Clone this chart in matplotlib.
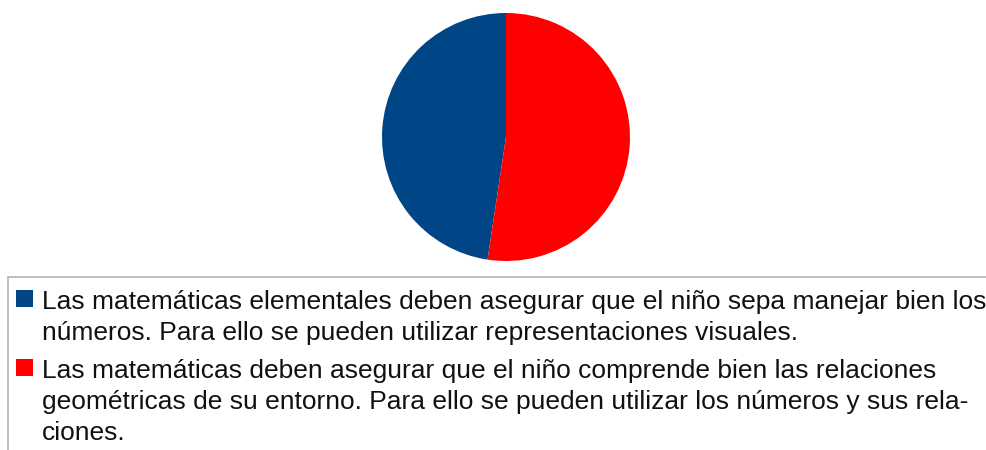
import matplotlib
matplotlib.use('Agg')
import matplotlib.pyplot as plt
from matplotlib.patches import Rectangle

# ─── DATA ─────────────────────────────────────────────────────────────────────
labels = [
    'Las matemáticas elementales deben asegurar que el niño sepa manejar bien los\n'
    'números. Para ello se pueden utilizar representaciones visuales.',
    'Las matemáticas deben asegurar que el niño comprende bien las relaciones\n'
    'geométricas de su entorno. Para ello se pueden utilizar los números y sus rela-\n'
    'ciones.',
]
values = [10, 11]
colors = ['#004586', '#ff0000']

W, H = 987, 450
plt.rcParams['font.family'] = ['Liberation Sans', 'DejaVu Sans']

fig = plt.figure(figsize=(W / 100, H / 100), dpi=100)
fig.patch.set_facecolor('white')

# ─── PIE ──────────────────────────────────────────────────────────────────────
cx, cy, r = 506, 137, 124
ax = fig.add_axes([(cx - r) / W, 1 - (cy + r) / H, 2 * r / W, 2 * r / H])
ax.pie(values, colors=colors, startangle=90, counterclock=True, radius=1,
       wedgeprops=dict(linewidth=0))
ax.set_xlim(-1, 1)
ax.set_ylim(-1, 1)
ax.set_aspect('equal')
ax.axis('off')

# ─── LEGEND (drawn by hand, box runs off the right/bottom edge) ───────────────
def fx(px):
    return px / W

def fy(py):
    return 1 - py / H

fig.patches.append(Rectangle((fx(8), fy(500)), fx(1100), (500 - 276.5) / H,
                             transform=fig.transFigure, facecolor='none',
                             edgecolor='#b3b3b3', linewidth=1.2))

line_h = 31
y0 = 309
for lab, col in zip(labels, colors):
    lines = lab.split('\n')
    fig.patches.append(Rectangle((fx(16), fy(y0 - 2.5)), fx(16.5), 16.5 / H,
                                 transform=fig.transFigure, facecolor=col,
                                 edgecolor='none'))
    for i, ln in enumerate(lines):
        fig.text(fx(42), fy(y0 + i * line_h), ln, fontsize=19, color='#111111',
                 ha='left', va='baseline')
    y0 += len(lines) * line_h + 7

fig.savefig('out.png', dpi=100)
